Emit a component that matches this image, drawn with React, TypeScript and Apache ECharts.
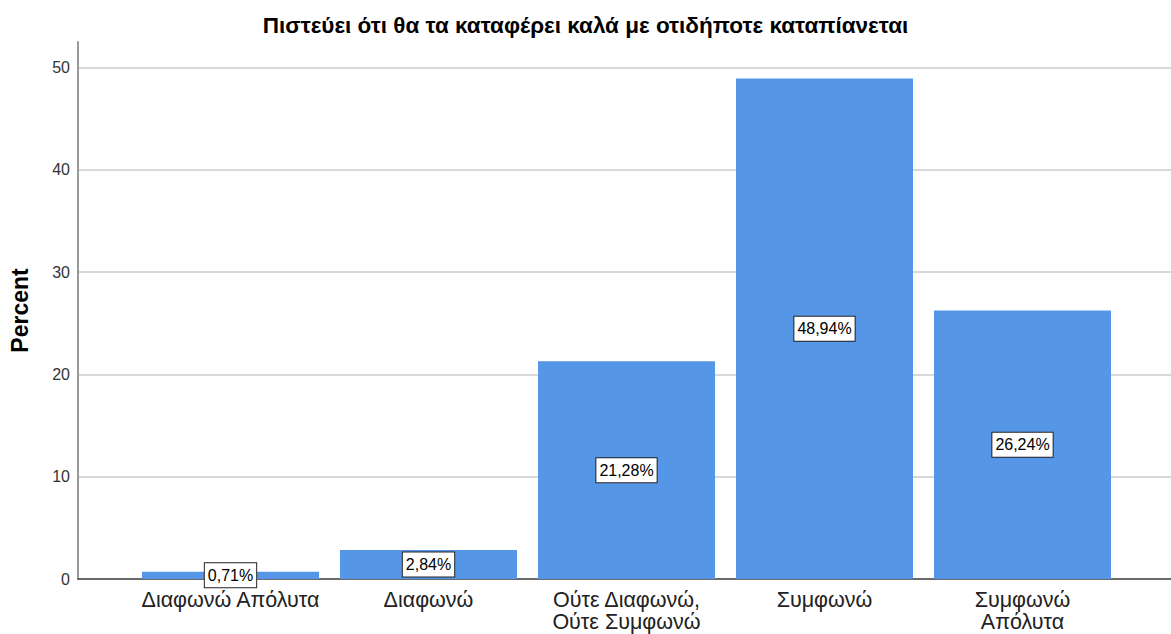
import React, { useEffect, useRef } from "react";
import * as echarts from "echarts";

const title = "Πιστεύει ότι θα τα καταφέρει καλά με οτιδήποτε καταπίανεται";
const categories = [
  "Διαφωνώ Απόλυτα",
  "Διαφωνώ",
  "Ούτε Διαφωνώ,\nΟύτε Συμφωνώ",
  "Συμφωνώ",
  "Συμφωνώ\nΑπόλυτα",
];
const values = [0.71, 2.84, 21.28, 48.94, 26.24];
const yTicks = [0, 10, 20, 30, 40, 50];
const yName = "Percent";

export default function App() {
  const ref = useRef<HTMLDivElement>(null);
  useEffect(() => {
    if (!ref.current) return;
    const chart = echarts.init(ref.current, null, { renderer: "svg" });
    const font = "'Liberation Sans', Arial, sans-serif";
    chart.setOption({
      animation: false,
      title: {
        text: title,
        left: "center",
        top: 9,
        textStyle: { fontFamily: font, fontSize: 22.5, fontWeight: "bold", color: "#000" },
      },
      grid: [
        { left: 77, right: 0, top: 42, bottom: 55, containLabel: false },
        { left: 131.5, right: 49.5, top: 42, bottom: 55, containLabel: false },
      ],
      xAxis: [
        {
          gridIndex: 0,
          type: "value",
          min: 0,
          max: 1,
          axisLine: { show: true, onZero: false, lineStyle: { color: "#444", width: 1.5 } },
          axisTick: { show: false },
          axisLabel: { show: false },
          splitLine: { show: false },
        },
        {
          gridIndex: 1,
          type: "category",
          data: categories,
          axisLine: { show: false },
          axisTick: { show: false },
          axisLabel: {
            interval: 0,
            margin: 10,
            fontFamily: font,
            fontSize: 21.5,
            lineHeight: 22,
            color: "#222",
          },
        },
      ],
      yAxis: [
        {
          gridIndex: 0,
          type: "value",
          min: yTicks[0],
          max: 52.5,
          interval: 10,
          name: yName,
          nameLocation: "middle",
          nameGap: 47,
          nameTextStyle: { fontFamily: font, fontSize: 23, fontWeight: "bold", color: "#000" },
          axisLine: { show: true, lineStyle: { color: "#999", width: 2 } },
          axisTick: { show: false },
          axisLabel: {
            showMaxLabel: false,
            margin: 8,
            fontFamily: font,
            fontSize: 16,
            color: "#333",
            formatter: (v: number) => (yTicks.includes(v) ? String(v) : ""),
          },
          splitLine: { show: true, showMaxLine: false, lineStyle: { color: "#cccccc", width: 1.5 } },
        },
        {
          gridIndex: 1,
          type: "value",
          min: 0,
          max: 52.5,
          show: false,
          splitLine: { show: false },
        },
      ],
      series: [
        {
          type: "bar",
          xAxisIndex: 1,
          yAxisIndex: 1,
          data: values,
          barWidth: 177,
          itemStyle: { color: "#5596E6" },
          label: {
            show: true,
            position: "inside",
            formatter: (p: any) => p.value.toFixed(2).replace(".", ",") + "%",
            fontFamily: font,
            fontSize: 16,
            color: "#000",
            backgroundColor: "#fff",
            borderColor: "#222",
            borderWidth: 1,
            padding: [4, 3, 4, 3],
          },
        },
      ],
    });
    return () => chart.dispose();
  }, []);
  return (
    <div
      ref={ref}
      style={{ position: "fixed", left: 0, top: 0, width: 1171, height: 634, background: "#fff" }}
    />
  );
}
